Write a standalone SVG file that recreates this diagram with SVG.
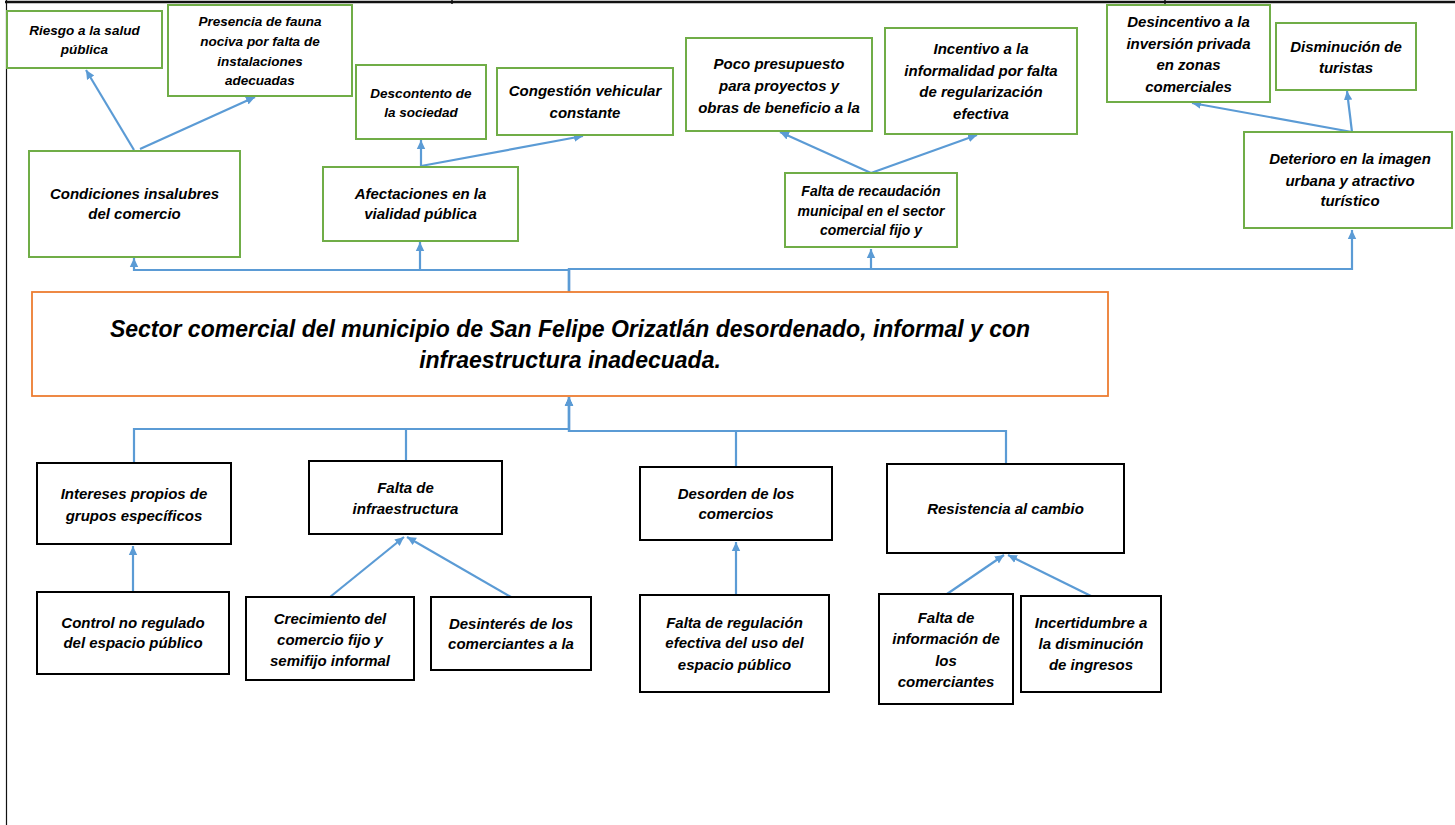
<svg xmlns="http://www.w3.org/2000/svg" width="1455" height="825" viewBox="0 0 1455 825">
<defs>
<marker id="ah" markerUnits="userSpaceOnUse" markerWidth="10" markerHeight="10" viewBox="0 0 10 10" refX="9" refY="5" orient="auto">
<path d="M0,0.8 L9,5 L0,9.2 Z" fill="#5B9BD5"/>
</marker>
<style>
.g{fill:#fff;stroke:#70AD47;stroke-width:2}
.k{fill:#fff;stroke:#000;stroke-width:2}
.o{fill:#fff;stroke:#ED7D31;stroke-width:1.8}
text{font-family:"Liberation Sans",Arial,sans-serif;font-weight:bold;font-style:italic;fill:#000;text-anchor:middle;font-size:15px}
.s{font-size:13.5px}
.t{font-size:23px}
.c line,.c polyline{stroke:#5B9BD5;stroke-width:2.2;fill:none;marker-end:url(#ah)}
</style>
</defs>
<rect width="1455" height="825" fill="#fff"/>
<g id="frame" stroke="#111">
<line x1="5" y1="2" x2="1455" y2="2" stroke-width="2.5"/>
<line x1="452" y1="0" x2="452" y2="4" stroke-width="1.5"/>
<line x1="1165" y1="0" x2="1165" y2="4" stroke-width="1.5"/>
<line x1="6.5" y1="0" x2="6.5" y2="825" stroke-width="1.2"/>
</g>
<g class="c" id="connectors">
<polyline points="569,292 569,270 134,270 134,258"/>
<polyline points="569,292 569,270 420,270 420,242"/>
<polyline points="569,292 569,269 871,269 871,249"/>
<polyline points="569,292 569,269 1352,269 1352,230"/>
<line x1="134" y1="150" x2="86" y2="70"/>
<line x1="140" y1="149" x2="255" y2="97"/>
<line x1="421" y1="167" x2="421" y2="140"/>
<line x1="421" y1="166" x2="583" y2="136"/>
<line x1="871" y1="173" x2="780" y2="132"/>
<line x1="871" y1="173" x2="977" y2="135"/>
<line x1="1352" y1="132" x2="1192" y2="103"/>
<line x1="1352" y1="132" x2="1347" y2="91"/>
<polyline points="134,463 134,429 569,429 569,397"/>
<polyline points="406,461 406,429 569,429 569,397"/>
<polyline points="736,467 736,431 569,431 569,397"/>
<polyline points="1006,464 1006,431 569,431 569,397"/>
<line x1="133" y1="592" x2="133" y2="546"/>
<line x1="330" y1="597" x2="404" y2="537"/>
<line x1="511" y1="597" x2="407" y2="537"/>
<line x1="736" y1="595" x2="736" y2="542"/>
<line x1="947" y1="594" x2="1004" y2="555"/>
<line x1="1091" y1="596" x2="1008" y2="555"/>
</g>
<g id="n-riesgo"><rect class="g" x="7" y="11" width="155" height="57"/><text class="s" x="84.5" y="34.5">Riesgo a la salud</text><text class="s" x="84.5" y="53.5">pública</text></g>
<g id="n-presencia"><rect class="g" x="168" y="5" width="184" height="91"/><text class="s" x="260" y="25.5">Presencia de fauna</text><text class="s" x="260" y="45.5">nociva por falta de</text><text class="s" x="260" y="65.5">instalaciones</text><text class="s" x="260" y="84.5">adecuadas</text></g>
<g id="n-condiciones"><rect class="g" x="29" y="151" width="211" height="106"/><text x="134.5" y="199">Condiciones insalubres</text><text x="134.5" y="219">del comercio</text></g>
<g id="n-descontento"><rect class="g" x="356" y="65" width="130" height="74"/><text class="s" x="421" y="97.5">Descontento de</text><text class="s" x="421" y="116.5">la sociedad</text></g>
<g id="n-afectaciones"><rect class="g" x="323" y="167" width="195" height="74"/><text x="420.5" y="199">Afectaciones en la</text><text x="420.5" y="219">vialidad pública</text></g>
<g id="n-congestion"><rect class="g" x="497" y="68" width="176" height="67"/><text x="585" y="96">Congestión vehicular</text><text x="585" y="118">constante</text></g>
<g id="n-presupuesto"><rect class="g" x="686" y="38" width="186" height="93"/><text x="779" y="69">Poco presupuesto</text><text x="779" y="91">para proyectos y</text><text x="779" y="113">obras de beneficio a la</text></g>
<g id="n-incentivo"><rect class="g" x="885" y="28" width="192" height="106"/><text x="981" y="54">Incentivo a la</text><text x="981" y="76">informalidad por falta</text><text x="981" y="97">de regularización</text><text x="981" y="119">efectiva</text></g>
<g id="n-recaudacion"><rect class="g" x="785" y="173" width="172" height="74"/><text x="871" y="196" style="font-size:14px">Falta de recaudación</text><text x="871" y="216" style="font-size:14px">municipal en el sector</text><text x="871" y="235" style="font-size:14px">comercial fijo y</text></g>
<g id="n-desincentivo"><rect class="g" x="1107" y="5" width="163" height="97"/><text x="1188.5" y="27">Desincentivo a la</text><text x="1188.5" y="49">inversión privada</text><text x="1188.5" y="70">en zonas</text><text x="1188.5" y="92">comerciales</text></g>
<g id="n-disminucion"><rect class="g" x="1276" y="23" width="140" height="67"/><text x="1346" y="52">Disminución de</text><text x="1346" y="73">turistas</text></g>
<g id="n-deterioro"><rect class="g" x="1244" y="132" width="208" height="96"/><text x="1350" y="164">Deterioro en la imagen</text><text x="1350" y="186">urbana y atractivo</text><text x="1350" y="206">turístico</text></g>
<g id="n-problema"><rect class="o" x="32" y="292" width="1076" height="104"/><text class="t" x="570" y="337">Sector comercial del municipio de San Felipe Orizatlán desordenado, informal y con</text><text class="t" x="570" y="368">infraestructura inadecuada.</text></g>
<g id="n-intereses"><rect class="k" x="37" y="463" width="194" height="81"/><text x="134" y="499">Intereses propios de</text><text x="134" y="521">grupos específicos</text></g>
<g id="n-control"><rect class="k" x="37" y="592" width="192" height="82"/><text x="133" y="628">Control no regulado</text><text x="133" y="648">del espacio público</text></g>
<g id="n-infraestructura"><rect class="k" x="309" y="461" width="193" height="73"/><text x="405.5" y="493">Falta de</text><text x="405.5" y="514">infraestructura</text></g>
<g id="n-crecimiento"><rect class="k" x="246" y="597" width="168" height="83"/><text x="330" y="624">Crecimiento del</text><text x="330" y="645">comercio fijo y</text><text x="330" y="666">semifijo informal</text></g>
<g id="n-desinteres"><rect class="k" x="431" y="597" width="160" height="73"/><text x="511" y="629">Desinterés de los</text><text x="511" y="649">comerciantes a la</text></g>
<g id="n-desorden"><rect class="k" x="640" y="467" width="192" height="73"/><text x="736" y="499">Desorden de los</text><text x="736" y="519">comercios</text></g>
<g id="n-regulacion"><rect class="k" x="640" y="595" width="189" height="97"/><text x="734.5" y="628">Falta de regulación</text><text x="734.5" y="648">efectiva del uso del</text><text x="734.5" y="670">espacio público</text></g>
<g id="n-resistencia"><rect class="k" x="887" y="464" width="237" height="89"/><text x="1005.5" y="514">Resistencia al cambio</text></g>
<g id="n-informacion"><rect class="k" x="879" y="594" width="134" height="110"/><text x="946" y="623">Falta de</text><text x="946" y="644">información de</text><text x="946" y="666">los</text><text x="946" y="687">comerciantes</text></g>
<g id="n-incertidumbre"><rect class="k" x="1021" y="596" width="140" height="96"/><text x="1091" y="628">Incertidumbre a</text><text x="1091" y="649">la disminución</text><text x="1091" y="670">de ingresos</text></g>
</svg>
